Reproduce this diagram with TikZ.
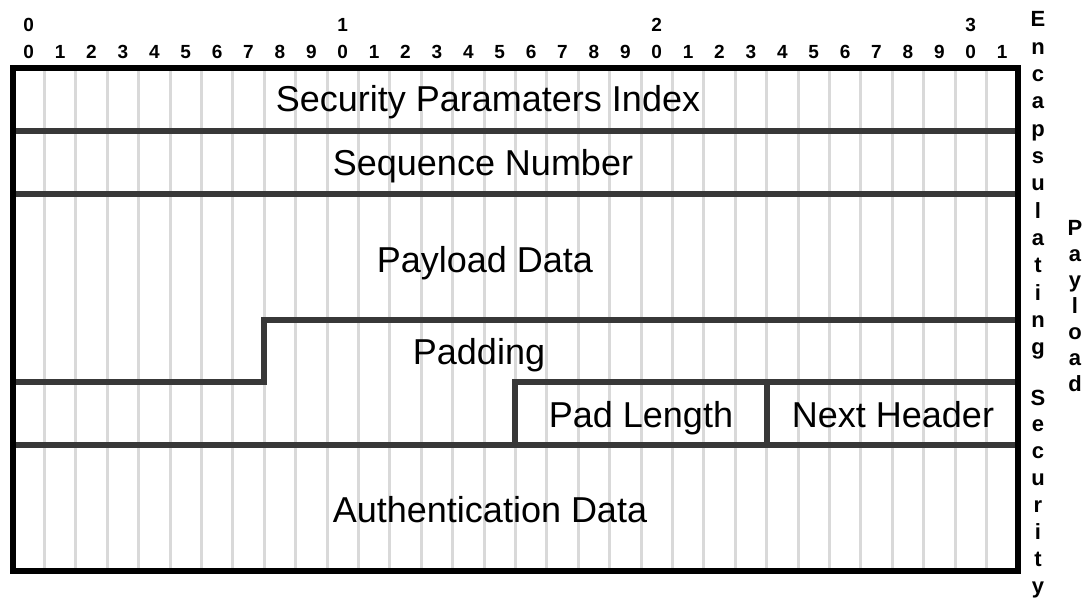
\documentclass[tikz,border=0pt]{standalone}
\usepackage{fontspec}
\setmainfont{Liberation Sans}
\begin{document}
\begin{tikzpicture}[x=1pt,y=-1pt,
  gridline/.style={draw=black!15,line width=3pt},
  fieldline/.style={draw=black!78,line width=6pt,line join=miter},
  frameline/.style={draw=black,line width=6.5pt,line join=miter},
  fieldtext/.style={font=\fontsize{36}{40}\selectfont,anchor=base,inner sep=0pt},
  bitnum/.style={font=\bfseries\fontsize{19}{20}\selectfont,anchor=base,inner sep=0pt},
  sidechar/.style={font=\bfseries\fontsize{22}{24}\selectfont,anchor=base,inner sep=0pt}]
\useasboundingbox (0,0) rectangle (1091,599);
% grid
\foreach \k in {1,...,31}{
  \draw[gridline] ({13+31.4*\k},68) -- ({13+31.4*\k},571);
}
% bit numbers
\foreach \d [count=\i from 0] in {0,1,2,3,4,5,6,7,8,9,0,1,2,3,4,5,6,7,8,9,0,1,2,3,4,5,6,7,8,9,0,1}{
  \node[bitnum] (b\i) at ({13+31.4*(\i+0.5)},59) {\d};
}
\node[bitnum] (t0) at ({13+31.4*0.5},32) {0};
\node[bitnum] (t1) at ({13+31.4*10.5},32) {1};
\node[bitnum] (t2) at ({13+31.4*20.5},32) {2};
\node[bitnum] (t3) at ({13+31.4*30.5},32) {3};
% field lines
\coordinate (L1) at (13,130.9); \coordinate (R1) at (1018,130.9);
\coordinate (L2) at (13,193.75); \coordinate (R2) at (1018,193.75);
\coordinate (L5) at (13,382.4);
\coordinate (P8) at (264.2,382.4); \coordinate (Q8) at (264.2,319.5);
\coordinate (R4) at (1018,319.5);
\coordinate (R5) at (1018,382.4);
\coordinate (P16) at (515.4,382.4); \coordinate (Q16) at (515.4,445.25);
\coordinate (P24) at (766.6,382.4); \coordinate (Q24) at (766.6,445.25);
\coordinate (L6) at (13,445.25); \coordinate (R6) at (1018,445.25);
\draw[fieldline] (L1) -- (R1);
\draw[fieldline] (L2) -- (R2);
\draw[fieldline] (L5) -- (P8) -- (Q8) -- (R4);
\draw[fieldline] (R5) -- (P16) -- (Q16);
\draw[fieldline] (P24) -- (Q24);
\draw[fieldline] (L6) -- (R6);
% frame
\draw[frameline] (13,68) rectangle (1018,571);
% field texts
\node[fieldtext] (spi) at (488,112) {Security Paramaters Index};
\node[fieldtext] (seq) at (483,175) {Sequence Number};
\node[fieldtext] (pay) at (485,272) {Payload Data};
\node[fieldtext] (pad) at (479,364) {Padding};
\node[fieldtext] (padlen) at (641,427) {Pad Length};
\node[fieldtext] (nh) at (893,427) {Next Header};
\node[fieldtext] (auth) at (490,522) {Authentication Data};
% side labels
\foreach \c [count=\i from 0] in {E,n,c,a,p,s,u,l,a,t,i,n,g}{
  \node[sidechar] (enc\i) at (1038,{27+27.3*\i}) {\c};
}
\foreach \c [count=\i from 0] in {S,e,c,u,r,i,t,y}{
  \node[sidechar] (sec\i) at (1038,{405+26.9*\i}) {\c};
}
\foreach \c [count=\i from 0] in {P,a,y,l,o,a,d}{
  \node[sidechar] (pl\i) at (1075,{235+26*\i}) {\c};
}
\end{tikzpicture}
\end{document}
